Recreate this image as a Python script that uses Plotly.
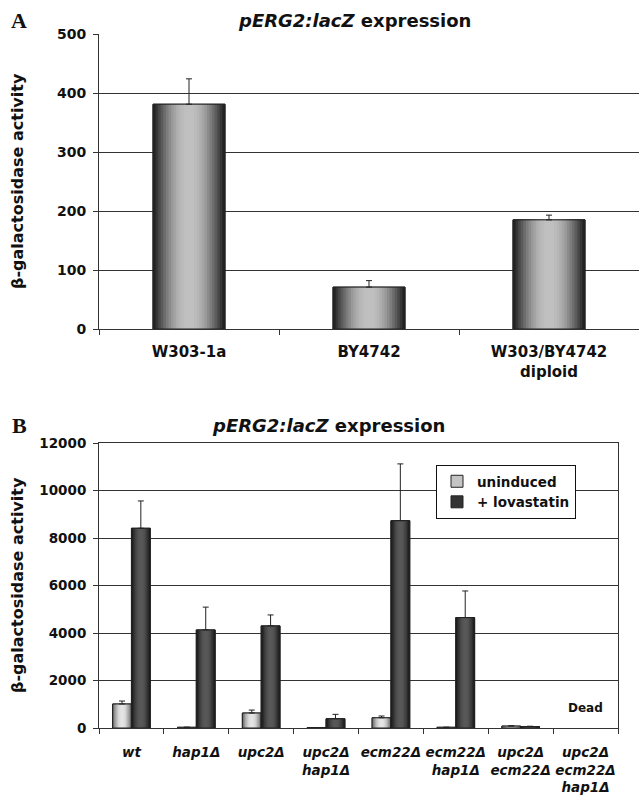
import math
import plotly.graph_objects as go

# ---------------- data ----------------
strains_a = ["W303-1a", "BY4742", "W303/BY4742<br>diploid"]
activity_a = [381, 71, 185]
error_a = [43, 11, 8]

strains_b = ["wt", "hap1Δ", "upc2Δ", "upc2Δ<br>hap1Δ", "ecm22Δ",
             "ecm22Δ<br>hap1Δ", "upc2Δ<br>ecm22Δ", "upc2Δ<br>ecm22Δ<br>hap1Δ"]
uninduced = [1010, 30, 630, 20, 430, 30, 80, None]
uninduced_err = [125, 0, 125, 0, 75, 0, 12, 0]
lovastatin = [8410, 4130, 4300, 390, 8730, 4650, 60, None]
lovastatin_err = [1150, 960, 460, 185, 2390, 1120, 15, 0]

title_text = "<i>pERG2:lacZ</i> expression"
ytitle_text = "β-galactosidase activity"
dead_label = "Dead"

# ---------------- helpers ----------------
FONT = "DejaVu Sans"
OUT = "#222222"


def mix(c0, c1, t):
    return "rgb(%d,%d,%d)" % tuple(round(a + (b - a) * t) for a, b in zip(c0, c1))


def gradient_bars(fig, x, y, err, xa, ya, center, W, edge, mid, name, swatch, n, legend):
    # hidden base trace carries the legend swatch
    fig.add_trace(go.Bar(x=x, y=y, xaxis=xa, yaxis=ya, name=name,
                         width=W, offset=center - W / 2,
                         marker=dict(color=swatch, line=dict(color=OUT, width=1)),
                         showlegend=legend, hoverinfo="skip"))
    for k in range(n):
        w = W * (1 - k / n)
        t = math.sin((k / (n - 1)) * math.pi / 2)
        fig.add_trace(go.Bar(x=x, y=y, xaxis=xa, yaxis=ya, width=w,
                             offset=center - w / 2,
                             marker=dict(color=mix(edge, mid, t), line=dict(width=0)),
                             showlegend=False, hoverinfo="skip"))
    fig.add_trace(go.Bar(x=x, y=y, xaxis=xa, yaxis=ya, width=W, offset=center - W / 2,
                         marker=dict(color="rgba(0,0,0,0)", line=dict(color=OUT, width=1)),
                         error_y=dict(type="data", array=err,
                                      arrayminus=[0] * len(err), symmetric=False,
                                      color=OUT, thickness=1, width=3),
                         showlegend=False, name=name))


fig = go.Figure()

# panel A
gradient_bars(fig, strains_a, activity_a, error_a, "x", "y", 0.0, 0.40,
              (35, 35, 35), (192, 192, 192), "A", "#999", 14, False)

# panel B
WB = 0.29
gradient_bars(fig, strains_b, uninduced, uninduced_err, "x2", "y2", -WB / 2, WB,
              (115, 115, 115), (228, 228, 228), "uninduced", "#c4c4c4", 7, True)
gradient_bars(fig, strains_b, lovastatin, lovastatin_err, "x2", "y2", WB / 2, WB,
              (28, 28, 28), (88, 88, 88), "+ lovastatin", "#333333", 7, True)

W_PX, H_PX = 639, 800


def px(x):
    return x / W_PX


def py(y):
    return 1 - y / H_PX


axis_common = dict(showline=True, linecolor="#333", linewidth=1, ticks="outside",
                   ticklen=5, tickcolor="#333", tickwidth=1, automargin=False,
                   fixedrange=True)

fig.update_layout(
    width=W_PX, height=H_PX, margin=dict(l=0, r=0, t=0, b=0),
    paper_bgcolor="white", plot_bgcolor="white", barmode="overlay",
    font=dict(family=FONT, color="#111"),
    xaxis=dict(domain=[px(99), 1.0], anchor="y", type="category",
               range=[-0.5, 2.5], tickson="boundaries", showgrid=False, tickangle=0,
               tickfont=dict(size=15, weight="bold", color="#111"),
               ticklabelstandoff=9, **axis_common),
    yaxis=dict(domain=[py(329), py(34)], anchor="x", range=[0, 500], dtick=100,
               showgrid=True, gridcolor="#333", gridwidth=1, zeroline=False,
               tickformat="d",
               tickfont=dict(size=14, weight="bold", color="#111"),
               ticklabelstandoff=4, **axis_common),
    xaxis2=dict(domain=[px(99), px(618)], anchor="y2", type="category",
                range=[-0.5, 7.5], tickson="boundaries", showgrid=False, mirror=True,
                tickangle=0,
                tickfont=dict(size=13.5, weight="bold", style="italic", color="#111"),
                ticklabelstandoff=12, **axis_common),
    yaxis2=dict(domain=[py(728), py(443)], anchor="x2", range=[0, 12000], dtick=2000,
                showgrid=True, gridcolor="#333", gridwidth=1, zeroline=False, mirror=True,
                tickformat="d",
                tickfont=dict(size=13.5, weight="bold", color="#111"),
                ticklabelstandoff=4, **axis_common),
    legend=dict(x=px(436), y=py(465), xanchor="left", yanchor="top",
                bgcolor="white", bordercolor="#111", borderwidth=1,
                font=dict(size=13.5, weight="bold", color="#111"),
                itemwidth=30, tracegroupgap=0),
    annotations=[
        dict(text="A", x=px(19), y=py(21), xref="paper", yref="paper", showarrow=False,
             xanchor="center", yanchor="middle",
             font=dict(family="Liberation Serif", size=22, weight="bold", color="#111")),
        dict(text="B", x=px(19), y=py(425), xref="paper", yref="paper", showarrow=False,
             xanchor="center", yanchor="middle",
             font=dict(family="Liberation Serif", size=22, weight="bold", color="#111")),
        dict(text=title_text, x=px(236), y=py(21), xref="paper", yref="paper",
             xanchor="left", yanchor="middle", showarrow=False,
             font=dict(size=18, weight="bold", color="#111")),
        dict(text=title_text, x=px(210), y=py(425), xref="paper", yref="paper",
             xanchor="left", yanchor="middle", showarrow=False,
             font=dict(size=18, weight="bold", color="#111")),
        dict(text=ytitle_text, x=px(17), y=py(181), xref="paper", yref="paper",
             xanchor="center", yanchor="middle", textangle=-90, showarrow=False,
             font=dict(size=16, weight="bold", color="#111")),
        dict(text=ytitle_text, x=px(17), y=py(585), xref="paper", yref="paper",
             xanchor="center", yanchor="middle", textangle=-90, showarrow=False,
             font=dict(size=16, weight="bold", color="#111")),
        dict(text=dead_label, x=strains_b[7], y=850, xref="x2", yref="y2",
             xanchor="center", yanchor="middle",
             showarrow=False, font=dict(size=12, weight="bold", color="#111")),
    ],
)

fig.write_html("out.html", config={"displayModeBar": False},
               post_script="document.body.style.margin='0';")
